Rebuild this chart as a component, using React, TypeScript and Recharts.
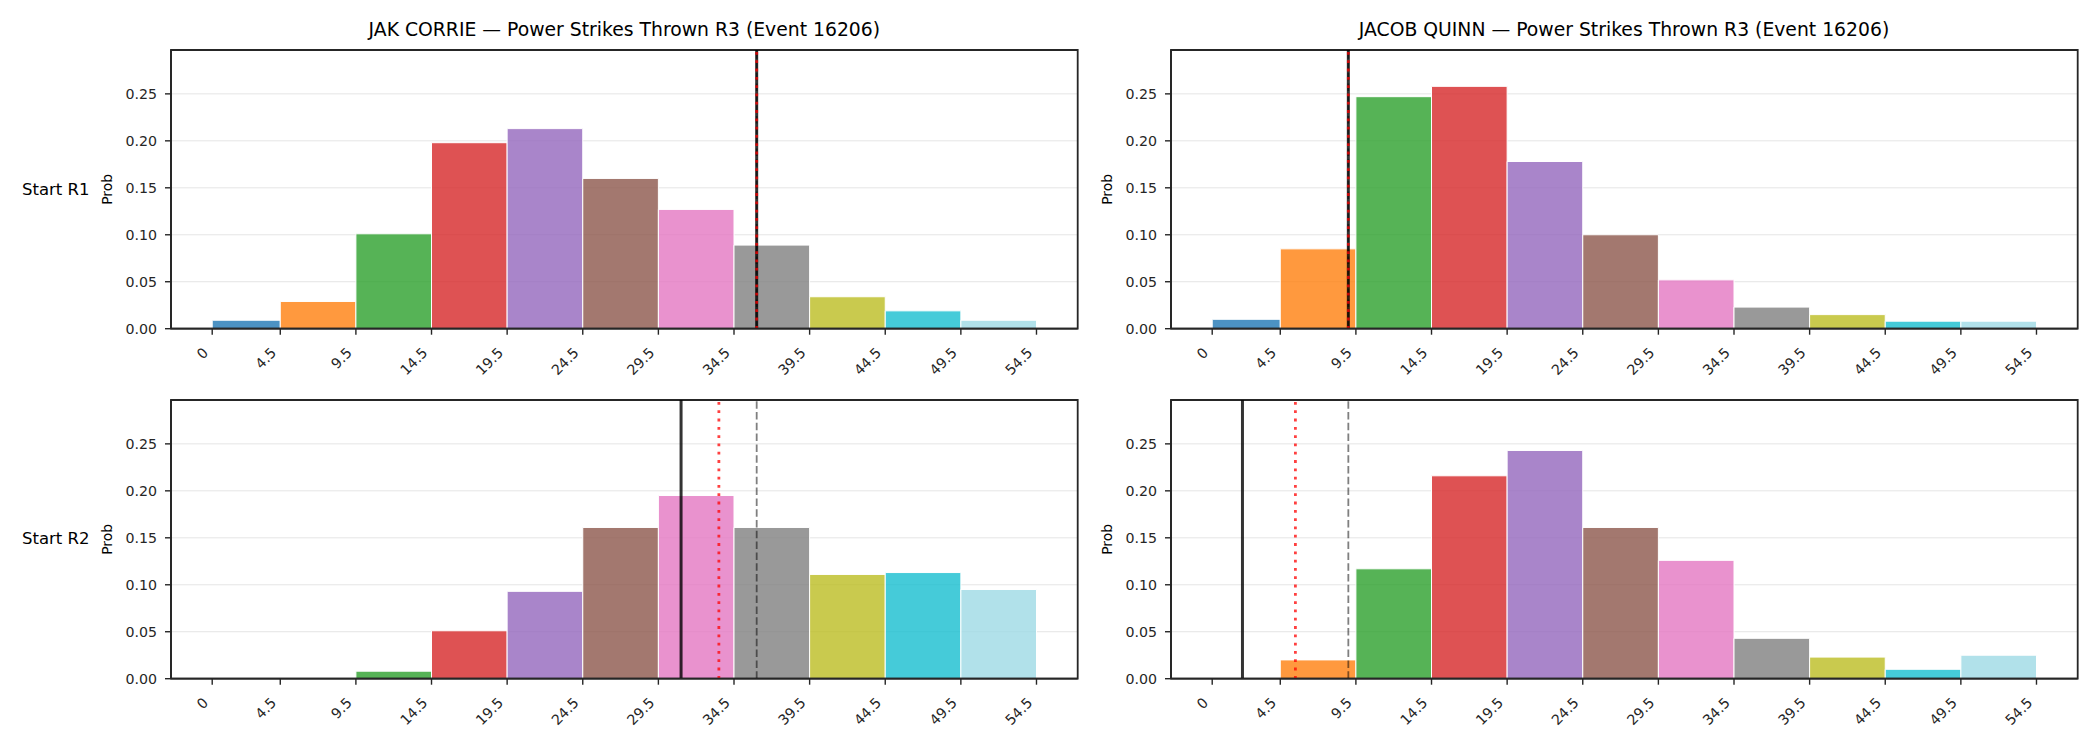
import React from 'react';
import { ComposedChart, XAxis, YAxis, CartesianGrid, ReferenceArea, ReferenceLine } from 'recharts';

// ---------- data ----------
const binEdges = [0, 4.5, 9.5, 14.5, 19.5, 24.5, 29.5, 34.5, 39.5, 44.5, 49.5, 54.5];
const tickLabels = ['0', '4.5', '9.5', '14.5', '19.5', '24.5', '29.5', '34.5', '39.5', '44.5', '49.5', '54.5'];
const binColors = ['#1f77b4', '#ff7f0e', '#2ca02c', '#d62728', '#9467bd', '#8c564b', '#e377c2', '#7f7f7f', '#bcbd22', '#17becf', '#9edae5'];

const corrieR1 = [0.009, 0.029, 0.101, 0.198, 0.213, 0.160, 0.127, 0.089, 0.034, 0.019, 0.009];
const quinnR1 = [0.010, 0.085, 0.247, 0.258, 0.178, 0.100, 0.052, 0.023, 0.015, 0.008, 0.008];
const corrieR2 = [0, 0, 0.008, 0.051, 0.093, 0.161, 0.195, 0.161, 0.111, 0.113, 0.095];
const quinnR2 = [0, 0.020, 0.117, 0.216, 0.243, 0.161, 0.126, 0.043, 0.023, 0.010, 0.025];

// vertical markers: actual (solid), projected (red dotted), start (gray dashed)
const corrieR1Marks = { actual: 36, projected: 36, start: 36 };
const quinnR1Marks = { actual: 9, projected: 9, start: 9 };
const corrieR2Marks = { actual: 31, projected: 33.5, start: 36 };
const quinnR2Marks = { actual: 2, projected: 5.5, start: 9 };

const yTicks = [0, 0.05, 0.1, 0.15, 0.2, 0.25];
const titles = [
  'JAK CORRIE \u2014 Power Strikes Thrown R3 (Event 16206)',
  'JACOB QUINN \u2014 Power Strikes Thrown R3 (Event 16206)',
];
const rowLabels = ['Start R1', 'Start R2'];

const yMax = Math.max(...corrieR1, ...quinnR1, ...corrieR2, ...quinnR2) * 1.15;
const xPad = (binEdges[binEdges.length - 1] - binEdges[0]) * 0.05;
const xDomain: [number, number] = [binEdges[0] - xPad, binEdges[binEdges.length - 1] + xPad];

const FONT = '"DejaVu Sans", sans-serif';
const INK = '#262626';

const XTick = (props: any) => {
  const { x, y, payload } = props;
  const idx = binEdges.indexOf(payload.value);
  const ax = x - 3;
  const ay = y + 17;
  return (
    <text x={ax} y={ay} transform={`rotate(-45 ${ax} ${ay})`} textAnchor="end" fontSize={14.2} fill={INK} fontFamily={FONT}>
      {idx >= 0 ? tickLabels[idx] : String(payload.value)}
    </text>
  );
};

const ProbLabel = (props: any) => {
  const vb = props.viewBox || {};
  const cx = vb.x + 7;
  const cy = vb.y + vb.height / 2;
  return (
    <text x={cx} y={cy} transform={`rotate(-90 ${cx} ${cy})`} textAnchor="middle" dominantBaseline="central" fontSize={13.9} fill="#000" fontFamily={FONT}>
      Prob
    </text>
  );
};

type Marks = { actual: number; projected: number; start: number };

function Panel({ left, top, probs, marks }: { left: number; top: number; probs: number[]; marks: Marks }) {
  const data = probs.map((p, i) => ({ lo: binEdges[i], hi: binEdges[i + 1], p, color: binColors[i] }));
  return (
    <div style={{ position: 'absolute', left, top, width: 1090, height: 380 }}>
      <ComposedChart width={1090} height={380} data={data} margin={{ top: 50, right: 12.3, bottom: 0, left: 100 }}>
        <CartesianGrid vertical={false} stroke="#e5e5e5" strokeWidth={1} />
        <XAxis
          dataKey="lo"
          type="number"
          domain={xDomain}
          allowDataOverflow
          ticks={binEdges}
          interval={0}
          tick={<XTick />}
          tickSize={6}
          tickMargin={2}
          height={51.3}
          axisLine={{ stroke: INK, strokeWidth: 1.8 }}
          tickLine={{ stroke: INK, strokeWidth: 1.4 }}
        />
        <YAxis
          type="number"
          domain={[0, yMax]}
          allowDataOverflow
          ticks={yTicks}
          interval={0}
          width={71}
          tickSize={6}
          tickMargin={8}
          tickFormatter={(v: number) => v.toFixed(2)}
          tick={{ fontSize: 14.2, fill: INK, fontFamily: FONT }}
          axisLine={{ stroke: INK, strokeWidth: 1.8 }}
          tickLine={{ stroke: INK, strokeWidth: 1.4 }}
          label={<ProbLabel />}
        />
        {data.filter((d) => d.p > 0).map((d) => (
          <ReferenceArea key={d.lo} x1={d.lo} x2={d.hi} y1={0} y2={d.p} fill={d.color} fillOpacity={0.8} stroke="#ffffff" strokeWidth={1} strokeOpacity={1} ifOverflow="visible" />
        ))}
        <ReferenceLine x={marks.actual} stroke="#000" strokeOpacity={0.8} strokeWidth={3} />
        <ReferenceLine x={marks.start} stroke="#000" strokeOpacity={0.5} strokeWidth={1.8} strokeDasharray="7.5 3.3" />
        <ReferenceLine x={marks.projected} stroke="#ff0000" strokeOpacity={0.75} strokeWidth={2.8} strokeDasharray="2.8 5.5" />
        {/* axes frame (top/right spines) */}
        <ReferenceArea x1={xDomain[0]} x2={xDomain[1]} y1={0} y2={yMax} fill="none" fillOpacity={0} stroke={INK} strokeWidth={1.8} ifOverflow="visible" />
      </ComposedChart>
    </div>
  );
}

const titleStyle = (left: number): React.CSSProperties => ({
  position: 'absolute',
  left,
  top: 19,
  width: 906.7,
  textAlign: 'center',
  fontFamily: FONT,
  fontSize: 18.8,
  lineHeight: '22px',
  color: '#000',
  whiteSpace: 'nowrap',
});

const rowLabelStyle = (top: number): React.CSSProperties => ({
  position: 'absolute',
  left: 22,
  top,
  fontFamily: FONT,
  fontSize: 16.5,
  lineHeight: '20px',
  color: '#000',
  whiteSpace: 'nowrap',
});

export default function App() {
  return (
    <div style={{ position: 'absolute', left: 0, top: 0, width: 2100, height: 750, background: '#fff', overflow: 'hidden' }}>
      <Panel left={0} top={0} probs={corrieR1} marks={corrieR1Marks} />
      <Panel left={1000} top={0} probs={quinnR1} marks={quinnR1Marks} />
      <Panel left={0} top={349.5} probs={corrieR2} marks={corrieR2Marks} />
      <Panel left={1000} top={349.5} probs={quinnR2} marks={quinnR2Marks} />
      <div style={titleStyle(171)}>{titles[0]}</div>
      <div style={titleStyle(1170.7)}>{titles[1]}</div>
      <div style={rowLabelStyle(179.5)}>{rowLabels[0]}</div>
      <div style={rowLabelStyle(529)}>{rowLabels[1]}</div>
    </div>
  );
}
